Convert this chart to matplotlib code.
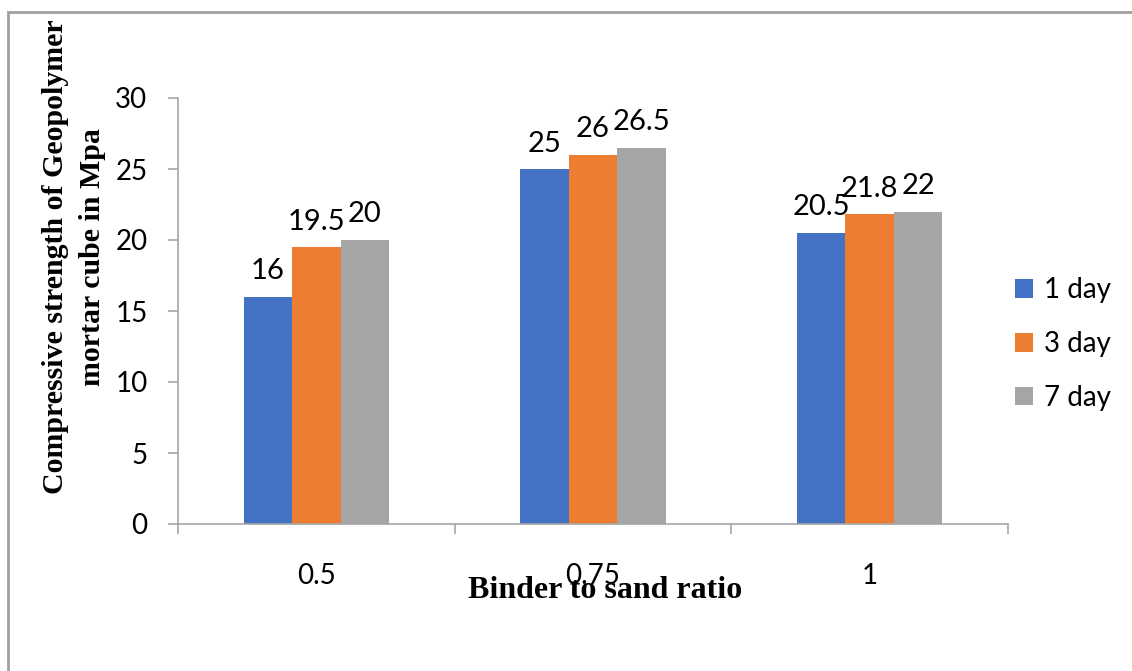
import matplotlib
matplotlib.use("Agg")
import matplotlib.pyplot as plt
from matplotlib.patches import Rectangle
import numpy as np

categories = ["0.5", "0.75", "1"]
series_names = ["1 day", "3 day", "7 day"]
day1 = [16, 25, 20.5]
day3 = [19.5, 26, 21.8]
day7 = [20, 26.5, 22]
series_values = [day1, day3, day7]
colors = ["#4472C4", "#ED7D31", "#A5A5A5"]
y_ticks = [0, 5, 10, 15, 20, 25, 30]

W, H = 1132, 671
fig = plt.figure(figsize=(W / 100, H / 100), dpi=100)
ax = fig.add_axes([178 / W, 1 - 524 / H, (1008 - 178) / W, (524 - 98) / H])

sans = "Lato"
serif = "Liberation Serif"
fs = 20

x = np.arange(len(categories))
bw = 0.175
for i, (name, vals, c) in enumerate(zip(series_names, series_values, colors)):
    bars = ax.bar(x + (i - 1) * bw, vals, bw, color=c, label=name, zorder=2)
    labels = [("%g" % v) for v in vals]
    ax.bar_label(bars, labels=labels, padding=9, fontsize=21, family=sans, color="black")

ax.set_xlim(-0.5, len(categories) - 0.5)
ax.set_ylim(0, 30)
ax.set_yticks(y_ticks)
ax.set_yticklabels([str(t) for t in y_ticks], fontsize=fs, family=sans)

ax.set_xticks(np.arange(-0.5, len(categories), 1.0))
ax.set_xticklabels([])
ax.set_xticks(x, minor=True)
ax.set_xticklabels(categories, minor=True, fontsize=fs, family=sans)
ax.tick_params(axis="x", which="major", length=7, width=1.2, color="#A6A6A6", direction="out")
ax.tick_params(axis="x", which="minor", length=0, pad=28)
ax.tick_params(axis="y", length=7, width=1.2, color="#A6A6A6", pad=15)

for s in ["top", "right"]:
    ax.spines[s].set_visible(False)
for s in ["left", "bottom"]:
    ax.spines[s].set_color("#A6A6A6")
    ax.spines[s].set_linewidth(1.2)

fig.text(605 / W, 1 - 590 / H, "Binder to sand ratio", family=serif, weight="bold",
         fontsize=23, ha="center", va="center")
fig.text(74 / W, 1 - 257 / H, "Compressive strength of Geopolymer\nmortar cube in Mpa",
         family=serif, weight="bold", fontsize=21.5, ha="center", va="center",
         rotation=90, linespacing=1.45, multialignment="center")

leg = ax.legend(loc="center left", bbox_to_anchor=(1015 / W, 1 - 344 / H),
                bbox_transform=fig.transFigure, frameon=False,
                prop={"family": sans, "size": fs}, handlelength=0.65, handleheight=0.65,
                handletextpad=0.4, labelspacing=1.0, borderaxespad=0, borderpad=0)

frame = Rectangle((7.5 / W, -0.2), 1.5, 1 - 12 / H + 0.2, transform=fig.transFigure,
                  fill=False, edgecolor="#A0A0A0", linewidth=2, clip_on=False)
fig.patches.append(frame)

fig.savefig("out.png", dpi=100)
